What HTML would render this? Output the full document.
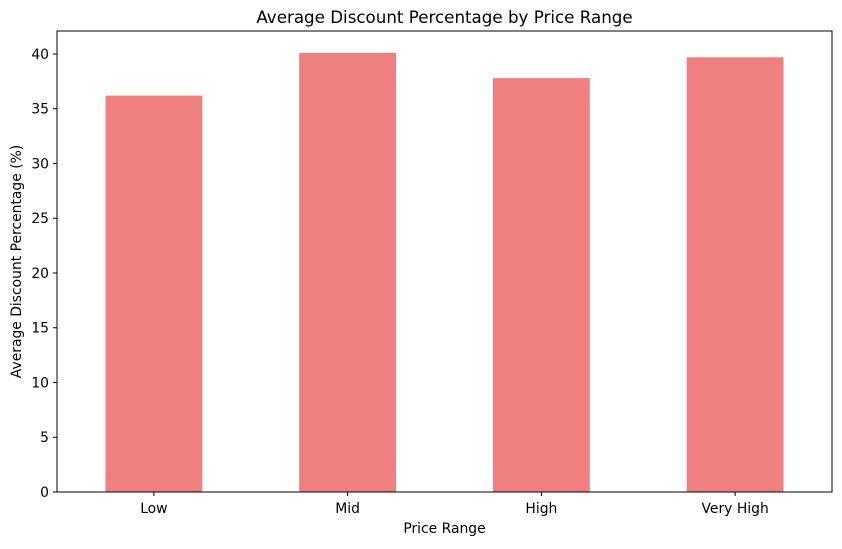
<!DOCTYPE html>
<html><head><meta charset="utf-8"><style>
body{margin:0;background:#fff;font-family:"DejaVu Sans","Liberation Sans",sans-serif;}
svg text{font-family:"DejaVu Sans","Liberation Sans",sans-serif;fill:#000;}
</style></head><body>
<svg id="chart" width="842" height="545" viewBox="0 0 842 545">
<text x="444.5" y="23" font-size="16.7" text-anchor="middle">Average Discount Percentage by Price Range</text>
<g id="bars"></g>
<g id="yaxis"></g>
<g id="xaxis"></g>
<rect x="57" y="31" width="775" height="461" fill="none" stroke="#000" stroke-width="1"/>
<text x="444.5" y="533" font-size="13.9" text-anchor="middle">Price Range</text>
<text transform="translate(21,261.5) rotate(-90)" font-size="13.9" text-anchor="middle">Average Discount Percentage (%)</text>
</svg>
<script>
const categories=["Low","Mid","High","Very High"];
const values=[36.2,40.1,37.8,39.7];
const yTicks=[0,5,10,15,20,25,30,35,40];
const L=57,R=832,T=31,B=492,yMax=42.1;
const ns="http://www.w3.org/2000/svg";
const x=i=>L+(i+0.5)*(R-L)/categories.length;
const y=v=>B-v*(B-T)/yMax;
const bw=0.5*(R-L)/categories.length;
const bars=document.getElementById('bars'),ya=document.getElementById('yaxis'),xa=document.getElementById('xaxis');
function mk(t,a){const e=document.createElementNS(ns,t);for(const k in a)e.setAttribute(k,a[k]);return e;}
categories.forEach((c,i)=>{
 const r=mk('rect',{x:x(i)-bw/2,y:y(values[i]),width:bw,height:B-y(values[i]),fill:'#f08080'});
 
 
 bars.appendChild(r);
 const tk=mk('line',{x1:x(i),x2:x(i),y1:B,y2:B+4,stroke:'#000'});
 
 
 xa.appendChild(tk);
 const t=mk('text',{x:x(i),y:B+21,'font-size':13.9,'text-anchor':'middle'});
 
 
 t.textContent=c;xa.appendChild(t);
});
yTicks.forEach(v=>{
 const tk=mk('line',{x1:L-4,x2:L,y1:y(v),y2:y(v),stroke:'#000'});
 
 
 ya.appendChild(tk);
 const t=mk('text',{x:L-8,y:y(v)+5,'font-size':13.9,'text-anchor':'end'});
 
 
 t.textContent=v;ya.appendChild(t);
});
</script>
</body></html>
